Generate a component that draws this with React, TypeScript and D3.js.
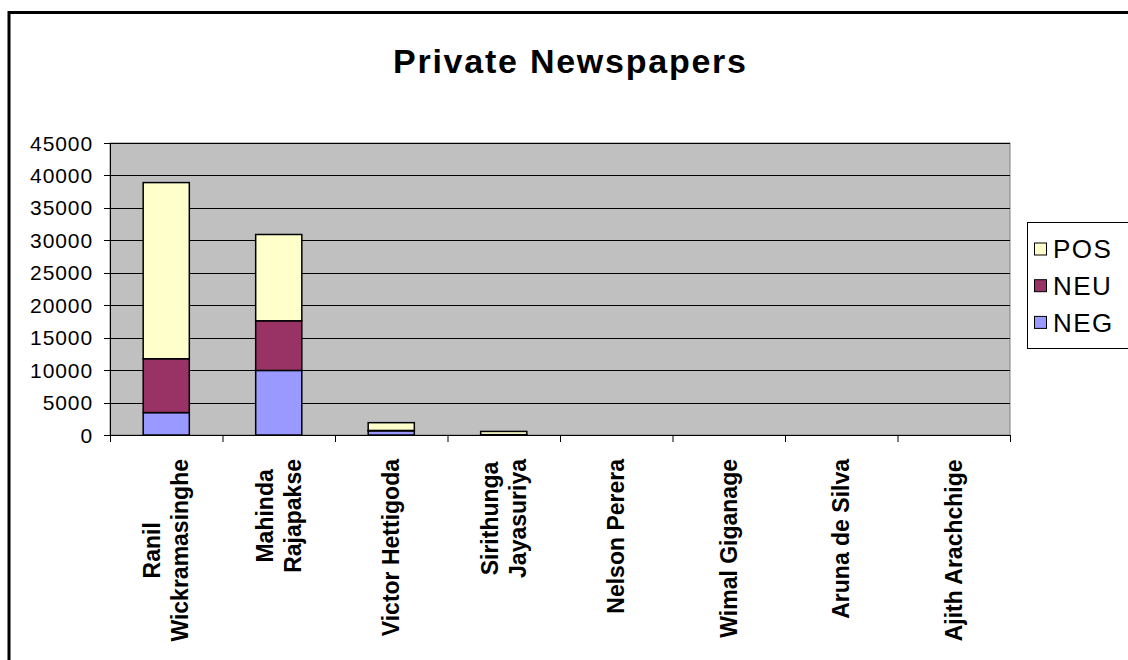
import React from "react";
import * as d3 from "d3";

const categories = [
  ["Ranil", "Wickramasinghe"],
  ["Mahinda", "Rajapakse"],
  ["Victor Hettigoda"],
  ["Sirithunga", "Jayasuriya"],
  ["Nelson Perera"],
  ["Wimal Giganage"],
  ["Aruna de Silva"],
  ["Ajith Arachchige"],
];
const NEG = [3450, 9950, 650, 30, 0, 0, 0, 0];
const NEU = [8300, 7650, 50, 20, 0, 0, 0, 0];
const POS = [27150, 13300, 1200, 500, 0, 0, 0, 0];
const seriesNames = ["NEG", "NEU", "POS"];
const seriesColors = ["#9999FF", "#993366", "#FFFFCC"];
const yTicks = [0, 5000, 10000, 15000, 20000, 25000, 30000, 35000, 40000, 45000];
const title = "Private Newspapers";

const FONT = "'Liberation Sans', Arial, sans-serif";

function measure(text: string, font: string): number {
  const c = document.createElement("canvas");
  const ctx = c.getContext("2d")!;
  ctx.font = font;
  return ctx.measureText(text).width;
}

export default function App() {
  const W = 1128, H = 660;
  const left = 110, right = 1010, top = 143, bottom = 435;
  const keys = categories.map((c) => c.join(" "));
  const x = d3.scaleBand<string>().domain(keys).range([left, right]).paddingInner(0.59).paddingOuter(0.295);
  const y = d3.scaleLinear().domain([0, 45000]).range([bottom, top]);
  const rows = keys.map((k, i) => ({ key: k, NEG: NEG[i], NEU: NEU[i], POS: POS[i] }));
  const stacked = d3.stack<any>().keys(seriesNames)(rows);
  const step = (right - left) / keys.length;
  const labelFont = `bold 23px ${FONT}`;
  const labelTop = 459;

  return (
    <svg width={W} height={H} style={{ position: "absolute", left: 0, top: 0, background: "#fff" }} fontFamily={FONT}>
      <rect x={9} y={12.5} width={1300} height={800} fill="#fff" stroke="#000" strokeWidth={3} />
      <text x={569.5} y={73} textAnchor="middle" fontSize={34} fontWeight="bold" textLength={353} lengthAdjust="spacing">{title}</text>
      {/* plot area */}
      <rect x={left} y={top} width={right - left} height={bottom - top} fill="#C0C0C0" stroke="#808080" strokeWidth={1} />
      {yTicks.map((t) => (
        <g key={t}>
          {t > 0 && <line x1={left} x2={right} y1={Math.round(y(t)) + 0.5} y2={Math.round(y(t)) + 0.5} stroke="#000" strokeWidth={1} />}
          <line x1={left - 6} x2={left} y1={Math.round(y(t)) + 0.5} y2={Math.round(y(t)) + 0.5} stroke="#000" strokeWidth={1} />
          <text x={93} y={y(t)} dy="0.36em" textAnchor="end" fontSize={21} letterSpacing={0.9}>{t}</text>
        </g>
      ))}
      {/* bars */}
      {stacked.map((s, si) => (
        <g key={seriesNames[si]}>
          {s.map((d, i) => {
            const h = y(d[0]) - y(d[1]);
            if (h <= 0) return null;
            return (
              <rect key={i} x={x(keys[i])!} y={y(d[1])} width={x.bandwidth()} height={h}
                fill={seriesColors[si]} stroke="#000" strokeWidth={1.5} />
            );
          })}
        </g>
      ))}
      {/* axes */}
      <line x1={left + 0.5} x2={left + 0.5} y1={top} y2={bottom} stroke="#000" strokeWidth={1} />
      <line x1={left} x2={right} y1={bottom + 0.5} y2={bottom + 0.5} stroke="#000" strokeWidth={1} />
      {d3.range(keys.length + 1).map((i) => (
        <line key={i} x1={left + i * step + 0.5} x2={left + i * step + 0.5} y1={bottom} y2={bottom + 7} stroke="#000" strokeWidth={1} />
      ))}
      {/* x labels */}
      {categories.map((lines, i) => {
        const cx = x(keys[i])! + x.bandwidth() / 2;
        const maxLen = Math.max(...lines.map((l) => measure(l, labelFont)));
        const cy = labelTop + maxLen / 2;
        const n = lines.length;
        return (
          <g key={i}>
            {lines.map((l, j) => {
              const base = cx + 8 - ((n - 1) * 28) / 2 + j * 28;
              return (
                <text key={j} transform={`translate(${base},${cy}) rotate(-90)`} textAnchor="middle"
                  fontSize={23} fontWeight="bold">{l}</text>
              );
            })}
          </g>
        );
      })}
      {/* legend */}
      <rect x={1027.5} y={222.5} width={200} height={126} fill="#fff" stroke="#000" strokeWidth={1} />
      {[2, 1, 0].map((si, j) => {
        const cyy = 249 + j * 36.7;
        return (
          <g key={si}>
            <rect x={1034.5} y={cyy - 6} width={12} height={12} fill={seriesColors[si]} stroke="#000" strokeWidth={1} />
            <text x={1053} y={cyy} dy="0.36em" fontSize={26} letterSpacing={1.5}>{seriesNames[si]}</text>
          </g>
        );
      })}
    </svg>
  );
}
